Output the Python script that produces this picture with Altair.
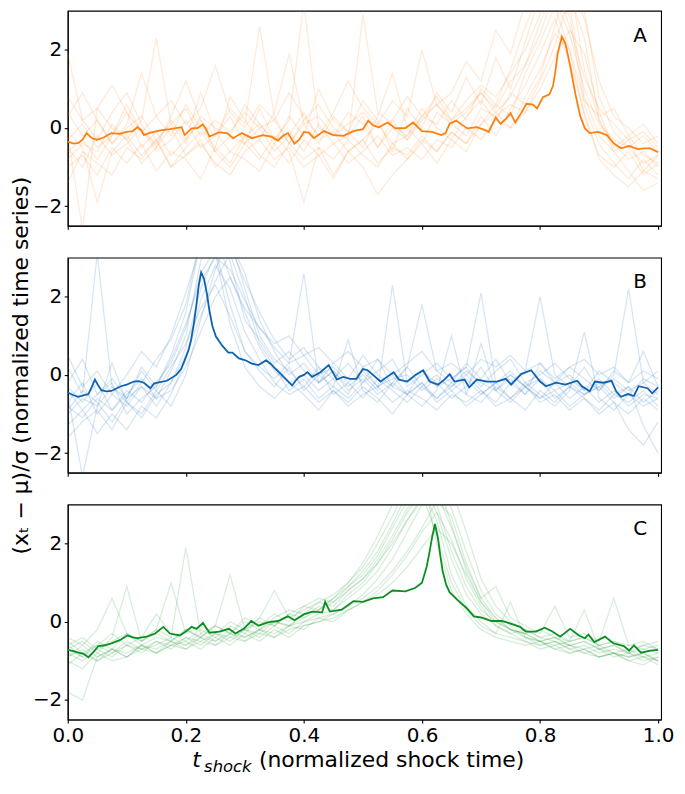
import altair as alt
import pandas as pd

# ---------------- data ----------------
T_GRID = [0.0, 0.025, 0.05, 0.075, 0.1, 0.125, 0.15, 0.175, 0.2, 0.225, 0.25, 0.275, 0.3, 0.325,
          0.35, 0.375, 0.4, 0.425, 0.45, 0.475, 0.5, 0.525, 0.55, 0.575, 0.6, 0.625, 0.65, 0.675,
          0.7, 0.725, 0.75, 0.775, 0.8, 0.825, 0.85, 0.875, 0.9, 0.925, 0.95, 0.975, 1.0]

A_FAINT = [
    [-0.6,-0.3,-0.8,-0.2,0.4,-0.5,-0.1,-0.7,-0.3,0.2,-0.6,-0.2,-0.4,0.5,-0.3,-0.1,-0.6,0.1,-0.4,-0.2,0.3,-0.5,0.0,-0.3,0.2,0.6,0.1,0.4,0.9,0.5,1.2,1.6,2.4,3.5,3.8,1.5,0.2,-0.4,-0.8,-0.6,-1.0],
    [0.3,0.9,0.2,-0.4,0.1,1.4,0.3,-0.2,0.6,0.0,-0.5,0.8,0.2,-0.3,0.4,1.9,0.1,-0.4,0.3,-0.1,0.7,0.2,-0.6,0.5,0.0,0.9,0.4,1.3,0.6,1.8,1.0,2.2,3.4,4.0,3.2,0.8,-0.2,-0.6,-0.3,-1.1,-0.7],
    [-1.0,-0.7,-1.2,-0.5,-0.9,-0.4,-1.1,-0.6,-0.8,-1.3,-0.5,-0.9,-0.2,-0.7,-1.0,-0.4,-0.8,-0.5,-1.2,-0.6,-0.3,-0.9,-0.5,-0.7,-0.2,-0.6,-0.1,-0.4,0.3,-0.2,0.5,1.1,1.9,2.8,1.7,0.4,-0.8,-1.2,-1.5,-1.1,-1.3],
    [-0.2,-2.6,0.5,0.0,-0.3,0.2,2.3,0.1,-0.4,0.3,0.0,-0.2,0.6,0.1,-0.3,0.2,3.2,0.0,-0.2,0.4,0.1,-0.5,0.2,0.8,0.3,0.1,0.7,0.2,1.0,0.6,1.5,2.6,3.5,3.3,2.4,1.0,0.1,-0.3,-0.5,-0.2,-0.6],
    [-0.8,-0.4,-0.6,0.1,-0.3,-0.9,-0.5,0.0,-0.7,-0.3,-1.0,-0.6,-0.8,-1.1,-0.4,-0.9,-0.3,-0.7,-1.3,-0.6,-1.0,-1.7,-1.2,-0.8,-0.4,-0.9,-0.3,-0.6,0.1,0.6,0.3,1.4,2.2,3.1,2.9,0.6,-0.4,-0.9,-1.3,-0.8,-1.2],
    [0.8,0.2,0.5,1.1,0.4,-0.1,0.3,0.7,0.1,0.5,1.6,0.4,0.0,0.6,0.2,0.9,0.3,-0.2,0.4,1.2,0.5,0.1,0.7,0.3,2.0,0.6,0.9,1.7,1.2,2.5,1.9,3.2,3.6,3.1,2.0,0.7,0.3,0.5,-0.2,0.1,-0.4],
    [-1.4,-0.6,-0.9,-1.2,-0.5,-0.8,-0.3,-1.0,-0.7,-0.4,-0.9,-1.2,-0.6,-0.3,-0.8,-0.5,-1.0,-0.7,-0.4,-0.9,-0.6,-0.2,-0.7,-0.5,-0.8,-0.3,-0.5,0.0,-0.3,0.2,0.0,0.4,1.2,2.1,3.4,2.3,0.2,-0.6,-1.1,-1.6,-1.4],
    [1.9,0.2,-0.3,0.4,0.9,0.1,-0.5,0.3,1.2,0.2,-0.2,0.5,0.1,2.6,0.3,-0.4,0.2,0.6,0.0,-0.3,2.9,0.4,0.1,-0.2,0.3,0.8,0.2,0.5,0.9,0.4,0.8,1.6,2.7,3.6,3.7,2.8,1.2,0.3,0.0,-0.4,-0.2],
    [-0.5,-1.0,-0.2,-0.7,-0.4,0.0,-0.6,-0.3,0.2,-0.5,-0.2,0.3,-0.4,0.0,-0.6,-0.2,0.4,-0.3,-0.1,-0.6,-0.3,0.1,-0.4,-0.2,0.5,0.0,-0.3,0.3,0.7,0.2,0.9,0.6,1.3,2.6,3.9,3.0,0.8,-0.1,-0.5,-0.9,-0.7],
    [-0.3,0.1,-0.5,-0.2,0.6,-0.1,-0.4,0.2,-0.3,0.9,-0.1,-0.6,-0.2,0.1,-0.4,0.3,-0.2,1.0,0.2,-0.1,-0.5,0.3,1.4,0.0,-0.4,0.4,0.1,-0.2,0.5,0.3,0.6,0.4,1.0,1.8,2.5,1.9,0.4,-0.5,-0.2,-0.7,-0.9],
    [-0.1,-0.5,-1.9,-0.6,-0.2,-0.7,-0.3,-1.0,-0.5,-0.1,-0.6,-1.0,-0.4,-0.8,-0.2,-0.6,-1.9,-0.5,-0.8,-0.3,-0.7,-1.0,-0.4,-0.8,-0.3,-0.6,-0.1,-0.4,0.1,0.4,0.0,0.8,1.5,2.4,2.0,0.3,-0.7,-1.0,-0.6,-1.2,-0.9],
    [0.4,-0.2,0.2,-0.4,0.0,0.3,-0.3,0.1,0.5,-0.2,0.2,-0.1,0.4,0.0,0.2,-0.4,0.1,0.3,-0.2,0.1,0.4,0.0,0.2,-0.3,0.3,0.6,0.2,0.7,1.1,0.8,1.4,2.0,2.9,3.7,2.6,1.3,0.5,0.1,-0.3,-0.1,-0.5],
]

B_FAINT = [
    [-0.8,-1.1,-0.6,-0.9,-0.4,-0.7,-0.2,0.3,1.2,2.6,3.2,1.8,0.6,0.1,-0.3,0.2,-0.4,0.0,-0.3,-0.6,-0.2,0.4,-0.3,-0.5,0.1,-0.2,-0.6,-0.3,0.2,-0.4,-0.1,-0.5,0.3,-0.2,-0.6,-0.3,-0.7,-0.4,-0.8,-0.5,-0.6],
    [-0.2,0.4,-0.5,-0.1,-0.6,0.2,-0.3,0.5,1.6,3.4,3.8,2.9,1.4,0.9,0.3,0.6,0.1,-0.2,0.3,-0.1,0.5,0.0,-0.3,0.2,1.8,0.1,-0.2,0.3,-0.1,0.4,-0.2,0.1,2.0,0.0,-0.3,0.2,-0.4,0.1,-0.2,0.6,-0.3],
    [-1.3,-0.9,-1.5,-1.0,-1.4,-0.8,-1.1,-0.5,0.4,1.9,2.8,2.2,1.1,0.4,-0.2,-0.5,-0.3,-0.7,-0.4,-0.8,-0.5,-0.3,-0.7,-0.4,-0.6,-0.9,-0.5,-0.7,-0.4,-0.8,-0.6,-0.3,-0.7,-0.5,-0.9,-0.6,-1.0,-0.7,-1.4,-1.8,-1.2],
    [-0.5,-2.6,-0.8,-0.3,-0.7,-0.2,0.4,0.9,1.8,3.5,4.0,3.3,2.4,1.6,0.9,0.4,0.7,0.2,-0.1,0.3,-0.2,0.1,0.4,-0.3,0.0,0.3,-0.1,0.2,-0.3,0.1,0.4,-0.2,0.0,0.3,-0.1,-0.4,0.1,-0.2,-0.5,-0.1,-0.3],
    [-0.9,-0.4,-0.7,-1.2,-0.6,-0.3,-0.8,-0.2,0.7,2.2,3.1,1.3,0.2,-0.3,-0.6,-0.2,-0.5,-0.9,-0.4,-0.7,-0.3,-0.6,-1.0,-0.5,-0.2,-0.7,-0.4,-0.8,-0.5,-0.2,-0.6,-0.9,-0.4,-0.7,-0.3,-0.6,-0.9,-0.5,-0.7,-0.4,-0.8],
    [0.5,-0.3,0.1,-0.5,0.0,0.6,0.2,1.0,2.1,3.3,3.6,2.5,1.7,1.2,0.8,1.0,0.5,0.7,0.3,0.6,0.2,0.4,0.0,0.3,0.6,0.1,0.3,0.0,0.4,0.2,0.5,0.1,0.3,-0.1,0.2,0.4,0.0,0.2,-0.2,0.1,-0.1],
    [-1.0,-0.6,-0.8,0.3,-0.7,-1.1,-0.5,-0.2,0.5,1.5,2.4,3.1,2.0,0.8,0.2,-0.4,-0.1,-0.6,-0.3,0.9,-0.4,-0.7,-0.2,-0.5,-0.8,-0.4,1.0,-0.5,-0.7,-0.3,-0.6,-0.2,-0.5,-0.8,-0.4,1.1,-0.6,-0.9,-0.5,-0.8,-0.6],
    [-0.3,-0.7,-0.2,-0.9,-0.5,-0.1,-0.6,0.1,1.0,2.9,3.7,3.4,2.6,1.4,0.6,0.0,0.3,-0.2,0.1,-0.4,-0.1,-0.5,-0.2,0.2,-0.3,0.0,-0.4,-0.1,-0.5,-0.2,0.1,-0.3,-0.6,-0.2,0.0,-0.4,-0.1,-0.5,-0.3,-1.3,-2.0],
    [-0.7,-0.2,-1.0,-0.5,-0.8,-0.3,-0.6,-0.4,0.2,1.1,2.0,2.5,1.6,0.7,0.1,-0.2,0.0,-0.4,-0.1,-0.5,0.2,-0.3,0.0,-0.5,-0.2,-0.6,-0.3,0.0,-0.4,-0.7,-0.2,-0.5,-0.1,-0.6,-0.3,-0.5,-0.2,-0.6,-0.3,-0.7,-0.4],
    [-1.6,-1.2,-0.9,-1.4,-0.7,-1.0,-0.4,-0.8,0.0,1.4,2.7,3.5,2.2,1.0,0.4,0.1,-0.3,0.2,-0.5,-0.2,-0.6,-0.1,-0.4,-0.7,-0.3,-0.6,-0.2,-0.5,0.8,-0.4,-0.7,-0.3,-0.6,-0.4,-0.8,-0.5,-0.3,-0.7,-1.0,-0.6,-0.9],
    [0.2,-0.5,3.1,-0.3,-0.6,0.1,-0.4,0.2,0.8,1.7,2.3,1.5,0.6,0.2,-0.1,0.3,2.6,-0.2,0.1,-0.3,0.0,-0.4,2.3,-0.2,0.1,-0.3,-0.1,0.2,2.1,-0.2,0.0,-0.3,0.1,-0.2,0.2,-0.1,-0.4,0.0,2.2,-0.2,0.1],
    [-0.4,-0.9,-0.5,-0.2,-1.0,-0.6,-0.3,0.4,1.3,2.4,3.0,2.7,1.9,1.2,0.7,0.3,0.5,0.0,0.2,-0.2,0.1,-0.3,-0.1,0.0,-0.4,-0.1,-0.3,0.1,-0.2,-0.4,0.0,-0.3,-0.1,-0.4,-0.2,-0.5,-0.3,-0.1,-0.4,-0.2,-0.5],
]

C_FAINT = [
    [-0.9,-0.7,-1.0,-0.8,-0.6,-0.7,-0.5,-0.6,-0.4,-0.5,-0.3,-0.4,-0.2,-0.3,0.0,-0.1,0.2,0.3,0.5,0.8,1.1,1.6,2.2,2.9,3.4,2.6,1.2,0.4,0.0,-0.3,-0.4,-0.5,-0.6,-0.5,-0.7,-0.6,-0.8,-0.7,-0.8,-0.9,-0.8],
    [-0.6,-0.9,-0.5,-0.7,-0.3,-0.6,-0.4,-0.5,-0.2,-0.4,-0.1,-0.3,0.0,-0.2,0.1,0.3,0.2,0.5,0.7,1.0,1.4,2.0,2.7,3.5,4.0,3.6,2.5,1.3,0.5,0.0,-0.2,-0.3,-0.5,-0.4,-0.6,-0.5,-0.7,-0.6,-0.8,-0.6,-0.7],
    [-1.0,-1.2,-0.8,-1.0,-0.9,-0.7,-0.8,-0.6,-0.7,-0.5,-0.6,-0.4,-0.5,-0.3,-0.4,-0.2,-0.1,0.0,0.2,0.4,0.6,0.9,1.3,1.8,2.4,3.1,2.7,1.5,0.6,0.1,-0.2,-0.4,-0.5,-0.7,-0.6,-0.8,-0.9,-0.8,-1.0,-0.9,-1.1],
    [-0.4,-0.6,-0.2,0.6,-0.3,-0.5,-0.2,-0.4,1.9,-0.3,-0.1,-0.3,0.1,-0.1,0.2,0.0,0.4,0.6,0.5,0.9,1.3,1.8,2.5,3.3,3.8,3.0,1.8,0.9,0.3,0.0,-0.2,-0.3,-0.2,-0.4,-0.5,-0.4,-0.6,-0.5,-0.6,-0.7,-0.6],
    [-1.8,-2.0,-0.9,-0.7,-0.8,-0.6,-0.7,-0.5,-0.6,-0.4,-0.5,-0.3,-0.4,-0.2,-0.3,-0.1,0.0,0.2,0.3,0.6,0.9,1.3,1.9,2.6,3.2,3.5,2.9,1.8,0.8,0.2,-0.1,-0.4,-0.6,-0.5,-0.7,-0.8,-0.7,-0.9,-0.8,-1.0,-0.9],
    [-0.7,-0.5,-0.8,-0.4,0.9,-0.5,-0.3,-0.5,-0.2,-0.4,-0.1,1.2,-0.2,0.0,-0.1,0.2,0.1,0.4,0.3,0.7,1.0,1.5,2.1,2.8,3.3,2.2,1.0,0.3,-0.1,-0.3,0.5,-0.4,-0.5,-0.6,-0.5,0.3,-0.7,-0.6,-0.8,-0.7,-0.8],
    [-0.8,-1.0,-0.7,-0.9,-0.6,-0.8,-0.5,-0.7,-0.4,-0.6,-0.3,-0.5,-0.2,-0.4,-0.1,-0.3,0.0,0.1,0.2,0.4,0.7,1.1,1.6,2.3,3.0,3.7,3.4,2.3,1.1,0.4,0.0,-0.2,-0.4,-0.5,-0.6,-0.7,-0.6,-0.8,-0.9,-0.8,-1.0],
    [-0.5,-0.8,-0.6,-0.3,-0.6,-0.4,0.2,-0.3,-0.5,-0.2,-0.4,-0.1,-0.3,0.1,-0.1,0.2,0.4,0.3,0.6,0.9,1.2,1.7,2.4,3.1,3.6,2.8,1.6,0.7,0.2,-0.1,-0.3,-0.2,-0.4,-0.3,-0.5,-0.4,-0.6,-0.5,-0.7,-0.6,-0.5],
    [-0.9,-0.6,-0.9,-0.7,-0.9,-0.6,-0.8,-0.5,-0.7,-0.4,-0.6,-0.3,-0.5,-0.2,-0.4,-0.1,-0.2,0.1,0.0,0.3,0.5,0.8,1.2,1.7,2.3,2.8,2.1,1.1,0.4,-0.1,-0.3,-0.5,-0.7,-0.6,-0.8,-0.7,-0.9,-0.8,-1.0,-1.1,-0.9],
    [-0.6,-0.4,-0.7,-0.5,-0.3,-0.5,-0.2,1.0,-0.3,-0.1,-0.3,0.0,-0.2,0.1,0.8,0.1,0.3,0.5,0.4,0.8,1.1,1.5,2.0,2.6,3.1,3.3,2.4,1.4,0.6,0.9,0.1,-0.1,-0.3,0.4,-0.4,-0.3,-0.5,0.6,-0.6,-0.5,-0.7],
    [-0.7,-0.9,-0.6,-0.8,-0.5,-0.7,-0.6,-0.4,-0.6,-0.3,-0.5,-0.2,-0.4,-0.2,0.0,-0.1,0.1,0.3,0.6,1.0,1.5,2.2,3.0,3.8,3.9,2.0,0.8,0.2,-0.2,-0.4,-0.5,-0.6,-0.5,-0.7,-0.8,-0.7,-0.9,-0.8,-0.9,-0.8,-1.0],
    [-1.1,-0.8,-1.0,-0.7,-0.9,-0.6,-0.8,-0.6,-0.5,-0.7,-0.4,-0.6,-0.3,-0.5,-0.2,-0.4,-0.1,0.0,0.1,0.3,0.5,0.7,1.0,1.4,1.9,2.4,2.0,1.2,0.5,0.1,-0.2,-0.3,-0.5,-0.4,-0.6,-0.5,-0.7,-0.8,-0.7,-0.9,-1.0],
]

A_MEAN_T = [0.000,0.010,0.018,0.025,0.032,0.040,0.049,0.060,0.074,0.088,0.100,0.110,0.118,0.124,0.129,0.140,0.157,0.173,0.193,0.198,
            0.210,0.220,0.229,0.235,0.240,0.256,0.270,0.280,0.295,0.312,0.330,0.345,0.356,0.365,0.373,0.384,0.392,0.400,0.408,0.417,
            0.434,0.450,0.467,0.484,0.500,0.509,0.517,0.527,0.542,0.555,0.572,0.585,0.600,0.617,0.633,0.640,0.647,0.658,0.668,0.677,
            0.693,0.708,0.713,0.725,0.733,0.742,0.750,0.758,0.768,0.777,0.788,0.795,0.805,0.816,0.822,0.826,0.830,0.837,0.843,0.851,
            0.860,0.868,0.876,0.884,0.899,0.913,0.924,0.937,0.951,0.965,0.976,0.987,1.000]
A_MEAN_V = [-0.35,-0.40,-0.38,-0.30,-0.13,-0.25,-0.30,-0.25,-0.13,-0.15,-0.10,-0.08,0.02,-0.05,-0.18,-0.12,-0.06,-0.03,0.02,-0.18,
            -0.01,0.00,0.09,-0.05,-0.22,-0.11,-0.13,-0.26,-0.13,-0.26,-0.18,-0.22,-0.32,-0.20,-0.13,-0.40,-0.30,-0.10,-0.12,-0.26,
            -0.08,-0.18,-0.20,-0.08,-0.03,0.19,0.07,0.02,0.14,-0.01,0.00,0.14,-0.08,-0.10,-0.18,-0.13,0.11,0.19,0.08,-0.01,
            0.02,-0.06,-0.10,0.27,0.11,0.23,0.38,0.14,0.38,0.62,0.60,0.50,0.79,0.86,1.08,1.45,1.92,2.34,2.16,1.59,
            0.86,0.31,-0.01,-0.13,-0.10,-0.18,-0.38,-0.52,-0.46,-0.54,-0.52,-0.52,-0.62]

B_MEAN_T = [0.000,0.010,0.018,0.028,0.035,0.041,0.046,0.052,0.057,0.065,0.074,0.090,0.100,0.112,0.120,0.129,0.140,0.146,0.152,0.168,
            0.184,0.192,0.198,0.205,0.209,0.214,0.218,0.222,0.226,0.231,0.236,0.240,0.245,0.251,0.262,0.272,0.279,0.290,0.300,0.312,
            0.323,0.336,0.344,0.351,0.360,0.367,0.380,0.386,0.392,0.400,0.406,0.414,0.428,0.442,0.456,0.462,0.467,0.478,0.489,0.500,
            0.508,0.517,0.530,0.539,0.552,0.561,0.575,0.589,0.602,0.613,0.627,0.638,0.647,0.655,0.672,0.680,0.693,0.710,0.727,0.742,
            0.751,0.768,0.785,0.800,0.810,0.827,0.843,0.863,0.871,0.884,0.893,0.907,0.921,0.929,0.937,0.949,0.959,0.967,0.982,0.990,1.000]
B_MEAN_V = [-0.45,-0.52,-0.56,-0.52,-0.49,-0.30,-0.12,-0.28,-0.39,-0.42,-0.41,-0.29,-0.25,-0.17,-0.16,-0.20,-0.34,-0.22,-0.20,-0.15,
            0.00,0.15,0.37,0.65,0.90,1.35,1.80,2.30,2.62,2.45,2.05,1.64,1.25,0.98,0.74,0.57,0.57,0.42,0.38,0.29,
            0.25,0.37,0.28,0.17,0.04,-0.07,-0.27,-0.15,-0.05,0.00,0.07,-0.05,0.07,0.25,-0.12,-0.08,-0.05,-0.10,-0.10,0.15,
            0.12,0.00,-0.17,-0.07,0.07,-0.12,-0.17,0.00,0.12,-0.17,-0.25,-0.12,0.02,-0.17,-0.12,-0.32,-0.12,-0.17,-0.17,-0.10,
            -0.25,0.02,0.12,-0.17,-0.29,-0.20,-0.25,-0.15,-0.29,-0.42,-0.17,-0.20,-0.15,-0.42,-0.56,-0.49,-0.54,-0.29,-0.34,-0.47,-0.32]

C_MEAN_T = [0.000,0.010,0.018,0.027,0.035,0.043,0.052,0.063,0.074,0.088,0.101,0.110,0.118,0.134,0.148,0.162,0.173,0.190,0.200,0.210,
            0.218,0.229,0.240,0.257,0.273,0.284,0.298,0.311,0.323,0.340,0.356,0.373,0.384,0.400,0.414,0.431,0.436,0.444,0.464,0.484,
            0.500,0.517,0.534,0.550,0.572,0.589,0.600,0.608,0.613,0.617,0.622,0.627,0.631,0.635,0.641,0.647,0.660,0.675,0.688,0.700,
            0.718,0.735,0.743,0.766,0.776,0.793,0.808,0.821,0.834,0.851,0.866,0.876,0.882,0.892,0.910,0.924,0.942,0.951,0.959,0.971,
            0.987,1.000]
C_MEAN_V = [-0.72,-0.75,-0.79,-0.82,-0.91,-0.78,-0.62,-0.60,-0.55,-0.47,-0.35,-0.40,-0.42,-0.38,-0.30,-0.13,-0.30,-0.35,-0.25,-0.13,
            -0.18,-0.03,-0.28,-0.25,-0.18,-0.30,-0.18,0.02,-0.10,-0.01,0.02,0.14,0.04,0.19,0.26,0.24,0.51,0.26,0.31,0.53,
            0.51,0.60,0.63,0.80,0.78,0.87,1.00,1.41,1.80,2.15,2.50,2.15,1.70,1.30,0.95,0.75,0.56,0.36,0.14,0.11,
            0.02,0.02,-0.01,-0.13,-0.25,-0.25,-0.15,-0.25,-0.38,-0.18,-0.35,-0.42,-0.33,-0.52,-0.38,-0.55,-0.62,-0.74,-0.60,-0.79,
            -0.74,-0.72]

X_TICKS = [0.0, 0.2, 0.4, 0.6, 0.8, 1.0]
Y_TICKS = [-2, 0, 2]
COLORS = {"A": "#ff7f0e", "B": "#0d62b3", "C": "#0a8f22"}
Y_TITLE = "(xₜ − μ)/σ (normalized time series)"
X_TITLE_T = "t"
X_TITLE_SUB = "shock"
X_TITLE_REST = "(normalized shock time)"

FONT = "DejaVu Sans"
W, H = 596, 216


def faint_frame(series):
    rows = []
    for k, vals in enumerate(series):
        for t, v in zip(T_GRID, vals):
            rows.append({"t": t, "v": v, "id": k})
    return pd.DataFrame(rows)


def panel(letter, faint, mt, mv, show_labels, y_title):
    color = COLORS[letter]
    x = alt.X("t:Q", scale=alt.Scale(domain=[0, 1.005], nice=False, zero=False),
              axis=alt.Axis(values=X_TICKS, labels=show_labels, format=".1f", title=None,
                            grid=False, tickSize=3.5, labelPadding=3, labelFlush=False))
    yax = dict(values=Y_TICKS, format="d", grid=False, tickSize=3.5, labelPadding=2.5)
    if y_title:
        yax.update(title=y_title, titlePadding=0, titleFontSize=22, titleFontWeight="normal",
                   titleFont=FONT, titleColor="black")
    else:
        yax.update(title=None)
    y = alt.Y("v:Q", scale=alt.Scale(domain=[-2.5, 3.0], nice=False, zero=False), axis=alt.Axis(**yax))

    faint_layer = alt.Chart(faint_frame(faint)).mark_line(
        clip=True, strokeWidth=1.3, opacity=0.16, color=color
    ).encode(x=x, y=y, detail="id:N")
    mean_layer = alt.Chart(pd.DataFrame({"t": mt, "v": mv})).mark_line(
        clip=True, strokeWidth=1.8, color=color
    ).encode(x=x, y=y)
    lab = alt.Chart(pd.DataFrame({"s": [letter]})).mark_text(
        font=FONT, fontSize=20, color="black", align="center", baseline="middle"
    ).encode(x=alt.value(W - 21), y=alt.value(25), text="s:N")
    layers = [faint_layer, mean_layer, lab]
    if show_labels:
        t1 = alt.Chart(pd.DataFrame({"s": [X_TITLE_T]})).mark_text(
            font=FONT, fontSize=22, fontStyle="italic", color="black", align="left", baseline="alphabetic"
        ).encode(x=alt.value(125), y=alt.value(H + 48), text="s:N")
        t2 = alt.Chart(pd.DataFrame({"s": [X_TITLE_SUB]})).mark_text(
            font=FONT, fontSize=16.5, fontStyle="italic", color="black", align="left", baseline="alphabetic"
        ).encode(x=alt.value(137), y=alt.value(H + 53), text="s:N")
        t3 = alt.Chart(pd.DataFrame({"s": [X_TITLE_REST]})).mark_text(
            font=FONT, fontSize=22, color="black", align="left", baseline="alphabetic"
        ).encode(x=alt.value(192), y=alt.value(H + 48), text="s:N")
        layers += [t1, t2, t3]
    return alt.layer(*layers).properties(width=W, height=H)


pA = panel("A", A_FAINT, A_MEAN_T, A_MEAN_V, False, None)
pB = panel("B", B_FAINT, B_MEAN_T, B_MEAN_V, False, Y_TITLE)
pC = panel("C", C_FAINT, C_MEAN_T, C_MEAN_V, True, None)

chart = alt.vconcat(pA, pB, pC, spacing=32, bounds="flush").properties(
    padding={"left": 0, "top": 0, "right": 2, "bottom": 0}
).configure_view(
    stroke="black", strokeWidth=1.1
).configure_axis(
    labelFont=FONT, labelFontSize=20, labelColor="black",
    domainColor="black", domainWidth=1.1, tickColor="black", tickWidth=1.1
)

chart.save("out.html", embed_options={"renderer": "svg", "actions": False})
